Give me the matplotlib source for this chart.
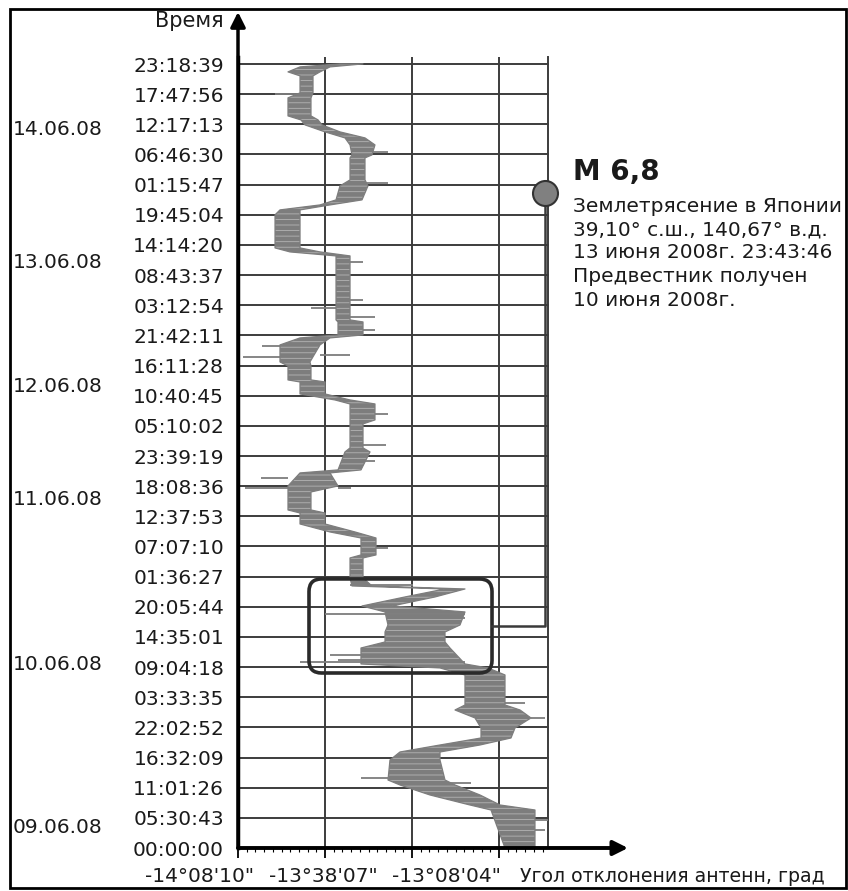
import matplotlib.pyplot as plt
from matplotlib.patches import FancyBboxPatch, Rectangle
from matplotlib.transforms import ScaledTranslation, blended_transform_factory

plt.rcParams['font.family'] = ['DejaVu Sans']
plt.rcParams['hatch.linewidth'] = 0.6

# Time since 09.06.08 00:00 (hours) and antenna deflection envelope (arc seconds)
trace_hours = [143.33, 142.78, 141.87, 141.14, 138.03, 137.12, 133.82, 133.09, 132.18, 130.90,
               129.80, 128.52, 126.69, 126.15, 122.12, 121.03, 118.47, 117.55, 116.64, 115.73,
               109.69, 108.96, 108.23, 96.53, 96.16, 93.79, 93.24, 91.96, 88.85, 88.12,
               85.56, 85.19, 83.00, 81.90, 81.17, 78.25, 77.52, 73.13, 72.40, 69.11,
               68.56, 66.18, 65.08, 61.79, 61.24, 59.23, 57.77, 56.67, 53.57, 53.02,
               49.36, 47.90, 47.35, 45.89, 44.24, 43.15, 40.77, 39.49, 37.66, 36.56,
               33.64, 32.91, 31.63, 26.14, 25.23, 23.77, 21.94, 20.11, 18.83, 17.55,
               16.09, 12.43, 11.52, 9.69, 7.86, 6.95, 0.00]
trace_low = [-48777, -49605, -49854, -49605, -49605, -49854, -49854, -49585, -49502, -49087,
             -48673, -48569, -48528, -48569, -48569, -48777, -48859, -49191, -50020, -50123,
             -50123, -49813, -48859, -48859, -48818, -48818, -49605, -50020, -50020, -49854,
             -49854, -49605, -49605, -48880, -48569, -48569, -48569, -48569, -48673, -48818,
             -49605, -49854, -49854, -49854, -49605, -49605, -48984, -48342, -48342, -48569,
             -48569, -48528, -46601, -47430, -48321, -47844, -47782, -47844, -47844, -48342,
             -48342, -46705, -46187, -46187, -46394, -45979, -45855, -45855, -46705, -47534,
             -47741, -47782, -47534, -46912, -46083, -45648, -45358]
trace_high = [-48300, -48984, -49191, -49336, -49336, -49378, -49378, -49232, -49150, -48777,
              -48259, -48052, -48114, -48259, -48259, -48197, -48321, -48984, -49605, -49605,
              -49605, -49191, -48569, -48569, -48300, -48300, -48984, -49191, -49399, -49378,
              -49378, -49087, -49087, -48569, -48052, -48052, -48300, -48300, -48155, -48342,
              -48984, -48818, -49378, -49378, -49087, -49087, -48466, -48031, -48031, -48300,
              -48300, -48114, -46187, -46808, -47699, -46187, -46290, -46601, -46601, -46498,
              -46187, -45710, -45358, -45358, -45047, -44820, -45151, -45234, -45876, -46705,
              -46705, -46601, -46394, -45876, -45461, -44737, -44737]

# Single short swings of the antenna
spike_hours = [137.85, 127.24, 121.58, 107.13, 100.19, 98.72, 97.08, 94.70, 91.78, 90.13,
               89.76, 79.34, 73.68, 70.75, 67.64, 65.82, 65.82, 54.85, 48.08, 42.78,
               42.05, 35.28, 34.00, 34.37, 26.51, 23.77, 12.80, 11.88, 5.12, 3.29]
spike_from = [-50123, -48114, -48259, -48569, -48569, -49378, -48569, -48300, -50393, -49191,
              -50786, -48052, -48300, -48342, -50413, -50745, -48818, -48031, -48569, -49087,
              -47782, -48984, -49605, -48818, -45358, -44820, -48342, -46601, -44737, -44737]
spike_to = [-49605, -47782, -47782, -48300, -48300, -48859, -48052, -48052, -50020, -48569,
            -50020, -47782, -47824, -48052, -49854, -49854, -48549, -47782, -47264, -46187,
            -46187, -46601, -46187, -48342, -44944, -44529, -47782, -46062, -44467, -44529]

time_step = 5.51194  # 5:30:43
time_labels = ['00:00:00', '05:30:43', '11:01:26', '16:32:09', '22:02:52', '03:33:35',
               '09:04:18', '14:35:01', '20:05:44', '01:36:27', '07:07:10', '12:37:53',
               '18:08:36', '23:39:19', '05:10:02', '10:40:45', '16:11:28', '21:42:11',
               '03:12:54', '08:43:37', '14:14:20', '19:45:04', '01:15:47', '06:46:30',
               '12:17:13', '17:47:56', '23:18:39']
time_ticks = [i * time_step for i in range(len(time_labels))]

dates = ['09.06.08', '10.06.08', '11.06.08', '12.06.08', '13.06.08', '14.06.08']
date_rows = [3.66, 33.46, 63.62, 84.28, 106.95, 131.27]

angle_ticks = [-50890, -49087, -47284, -45481]
angle_labels = ['-14°08\'10"', '-13°38\'07"', '-13°08\'04"', '']

# Earthquake and precursor
quake_hour = 119.73   # 13.06.08 23:43:46
precursor_hours = (31.99, 49.18)
precursor_angles = (-49419, -45627)
stem_angle = -44529

fig = plt.figure(figsize=(8.48, 8.91), dpi=100)
W, H = 848, 891
px_per_hour = 784 / (26 * time_step)
ytop = 144.5
ax = fig.add_axes([238 / W, (H - 848) / H, 310 / W, ytop * px_per_hour / H])
ax.set_xlim(-50890, -44467)
ax.set_ylim(0, ytop)
txt = '#1a1a1a'

grid_col = '#3c3c3c'
for h in time_ticks:
    ax.axhline(h, color=grid_col, lw=1.4, zorder=1, clip_on=False)
for a in angle_ticks[1:]:
    ax.axvline(a, color=grid_col, lw=1.4, zorder=1)

# recorded trace: envelope band plus separate swings
trace_col = '#7d7d7d'
ax.fill_betweenx(trace_hours, trace_low, trace_high, facecolor=trace_col,
                 edgecolor='#b4b4b4', hatch='---', lw=0, zorder=3)
ax.fill_betweenx(trace_hours, trace_low, trace_high, facecolor='none',
                 edgecolor=trace_col, lw=0.9, zorder=3)
ax.hlines(spike_hours, spike_from, spike_to, color=trace_col, lw=1.3, zorder=3)

# precursor box with link to the earthquake marker
mpp = (1 / px_per_hour) / (6423 / 310)
box = FancyBboxPatch((precursor_angles[0], precursor_hours[0]),
                     precursor_angles[1] - precursor_angles[0],
                     precursor_hours[1] - precursor_hours[0],
                     boxstyle='round,pad=0,rounding_size=260', mutation_aspect=mpp,
                     fill=False, ec='#2a2a2a', lw=2.6, zorder=5)
ax.add_patch(box)
mid_h = (precursor_hours[0] + precursor_hours[1]) / 2
ax.plot([precursor_angles[1], stem_angle, stem_angle], [mid_h, mid_h, quake_hour],
        color='#3a3a3a', lw=1.8, zorder=5, clip_on=False)
ax.plot(stem_angle, quake_hour, 'o', ms=18, mfc='#808080', mec='#333333', mew=1.5,
        zorder=6, clip_on=False)

# axes with arrows
for s in ['top', 'bottom']:
    ax.spines[s].set_visible(False)
ax.spines['right'].set_color(grid_col)
ax.spines['right'].set_linewidth(1.4)
ax.spines['left'].set_linewidth(2.5)
ax.annotate('', xy=(0, (848 - 12) / (ytop * px_per_hour)), xytext=(0, 0),
            xycoords='axes fraction',
            arrowprops=dict(arrowstyle='-|>', lw=2.5, color='black', mutation_scale=22,
                            shrinkA=0, shrinkB=0))
ax.annotate('', xy=((628 - 238) / 310, 0), xytext=(0, 0), xycoords='axes fraction',
            arrowprops=dict(arrowstyle='-|>', lw=2.8, color='black', mutation_scale=22,
                            shrinkA=0, shrinkB=0))

ax.set_yticks(time_ticks)
ax.set_yticklabels(time_labels, fontsize=14.5, color=txt)
ax.tick_params(axis='y', length=0, pad=10)

ax.set_xticks(angle_ticks)
ax.set_xticklabels(angle_labels, fontsize=14.5, color=txt)
ax.set_xticks([-50890 + i * 180.3 for i in range(36)], minor=True)
ax.tick_params(axis='x', which='major', length=7, width=1.3, pad=7)
ax.tick_params(axis='x', which='minor', length=3, width=0.8)
for lab, dx in zip(ax.get_xticklabels(), [-27.4, -1.4, 24.5, 0]):
    lab.set_transform(lab.get_transform() + ScaledTranslation(dx / 72, 0, fig.dpi_scale_trans))

trans = blended_transform_factory(fig.transFigure, ax.transData)
for d, h in zip(dates, date_rows):
    fig.text(13 / W, h, d, transform=trans, fontsize=14.5, va='center', ha='left', color=txt)

fig.text(224 / W, 1 - 21 / H, 'Время', fontsize=15, ha='right', va='center', color=txt)
fig.text(520 / W, 1 - 876 / H, 'Угол отклонения антенн, град', fontsize=13.6,
         ha='left', va='center', color=txt)

fig.text(573 / W, 1 - 172 / H, 'M 6,8', fontsize=20, fontweight='bold', ha='left',
         va='center', color=txt)
info = ['Землетрясение в Японии', '39,10° с.ш., 140,67° в.д.', '13 июня 2008г. 23:43:46',
        'Предвестник получен', '10 июня 2008г.']
for i, line in enumerate(info):
    fig.text(573 / W, 1 - (206 + 23.5 * i) / H, line, fontsize=14.5, ha='left',
             va='center', color=txt)

fig.patches.append(Rectangle((10 / W, 3 / H), 836 / W, 879 / H, transform=fig.transFigure,
                             fill=False, ec='black', lw=2))

fig.savefig('out.png', dpi=100)
